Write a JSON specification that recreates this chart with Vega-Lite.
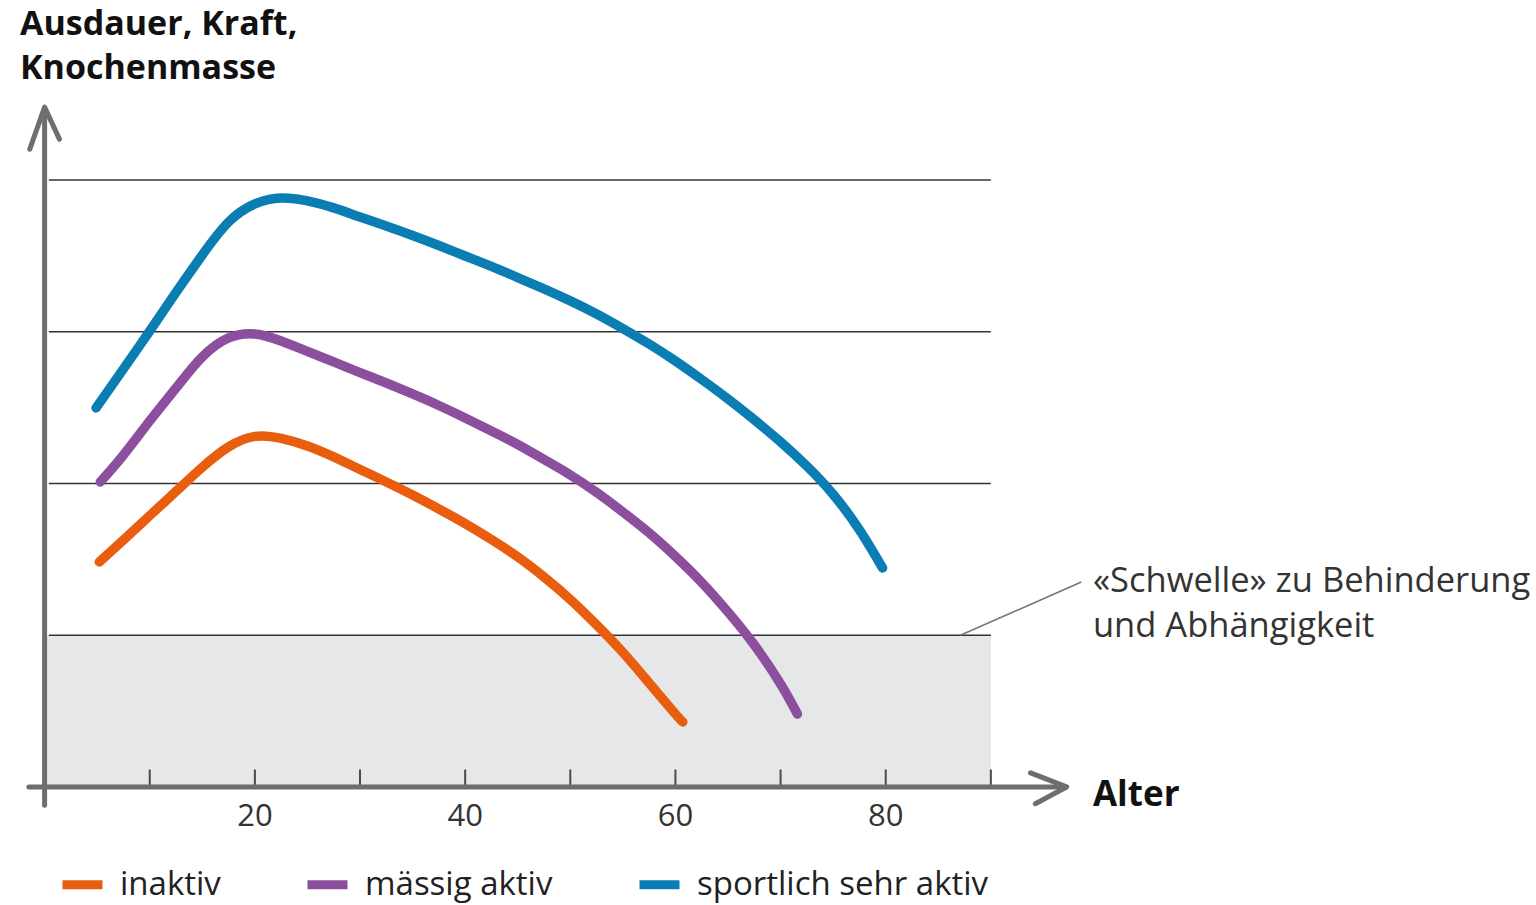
{
  "$schema": "https://vega.github.io/schema/vega-lite/v6.json",
  "width": 1536,
  "height": 905,
  "autosize": {"type": "none"},
  "padding": 0,
  "background": "white",
  "config": {"view": {"stroke": null}, "font": "Open Sans", "axis": {"disable": true}},
  "layer": [
    {
      "data": {"values": [{}]},
      "mark": {"type": "rect", "color": "#e6e7e9"},
      "encoding": {
        "x": {"datum": 0, "type": "quantitative", "axis": null, "scale": {"domain": [-4.242, 141.85], "nice": false, "zero": false}},
        "x2": {"datum": 90},
        "y": {"datum": 0, "type": "quantitative", "axis": null, "scale": {"domain": [-0.778, 5.186], "nice": false, "zero": false}},
        "y2": {"datum": 1}
      }
    },
    {
      "data": {"values": [{"stufe": 1}, {"stufe": 2}, {"stufe": 3}, {"stufe": 4}]},
      "mark": {"type": "rule", "color": "#333333", "strokeWidth": 1.6},
      "encoding": {
        "x": {"datum": 0.4, "type": "quantitative", "axis": null},
        "x2": {"datum": 90},
        "y": {"field": "stufe", "type": "quantitative", "axis": null}
      }
    },
    {
      "data": {"values": [{"alter": 10}, {"alter": 20}, {"alter": 30}, {"alter": 40}, {"alter": 50}, {"alter": 60}, {"alter": 70}, {"alter": 80}, {"alter": 90}]},
      "mark": {"type": "rule", "color": "#4a4a4a", "strokeWidth": 2},
      "encoding": {
        "x": {"field": "alter", "type": "quantitative", "axis": null},
        "y": {"datum": 0, "type": "quantitative", "axis": null},
        "y2": {"datum": 0.115}
      }
    },
    {
      "data": {"values": [{"alter": 20}, {"alter": 40}, {"alter": 60}, {"alter": 80}]},
      "mark": {"type": "text", "fontSize": 31, "color": "#333333", "align": "center", "baseline": "alphabetic"},
      "encoding": {
        "x": {"field": "alter", "type": "quantitative", "axis": null},
        "y": {"datum": -0.257, "type": "quantitative", "axis": null},
        "text": {"field": "alter", "type": "quantitative"}
      }
    },
    {
      "data": {"values": [{}]},
      "mark": {"type": "rule", "color": "#6e6e6e", "strokeWidth": 5, "strokeCap": "round"},
      "encoding": {
        "x": {"datum": -1.5, "type": "quantitative", "axis": null},
        "x2": {"datum": 96.9},
        "y": {"datum": 0, "type": "quantitative", "axis": null}
      }
    },
    {
      "data": {"values": [{}]},
      "mark": {"type": "rule", "color": "#6e6e6e", "strokeWidth": 5, "strokeCap": "round"},
      "encoding": {
        "x": {"datum": 0, "type": "quantitative", "axis": null},
        "y": {"datum": -0.12, "type": "quantitative", "axis": null},
        "y2": {"datum": 4.46}
      }
    },
    {
      "data": {"values": [{}]},
      "mark": {"type": "point", "shape": "M -0.37 1.05 L 0 0 L 0.37 0.8", "size": 6400, "filled": false, "color": "#6e6e6e", "strokeWidth": 5, "strokeCap": "round", "strokeJoin": "round", "opacity": 1},
      "encoding": {
        "x": {"datum": 0, "type": "quantitative", "axis": null},
        "y": {"datum": 4.48, "type": "quantitative", "axis": null}
      }
    },
    {
      "data": {"values": [{}]},
      "mark": {"type": "point", "shape": "M -0.9 -0.35 L 0 0 L -0.78 0.42", "size": 6400, "filled": false, "color": "#6e6e6e", "strokeWidth": 5, "strokeCap": "round", "strokeJoin": "round", "opacity": 1},
      "encoding": {
        "x": {"datum": 97.2, "type": "quantitative", "axis": null},
        "y": {"datum": 0, "type": "quantitative", "axis": null}
      }
    },
    {
      "data": {"values": [{}]},
      "mark": {"type": "rule", "color": "#777777", "strokeWidth": 1.6},
      "encoding": {
        "x": {"datum": 87.1, "type": "quantitative", "axis": null},
        "x2": {"datum": 98.6},
        "y": {"datum": 1.0, "type": "quantitative", "axis": null},
        "y2": {"datum": 1.35}
      }
    },
    {
      "data": {"values": [
        {"gruppe": "inaktiv", "alter": 5.2, "wert": 1.483},
        {"gruppe": "inaktiv", "alter": 7.5, "wert": 1.628},
        {"gruppe": "inaktiv", "alter": 10, "wert": 1.788},
        {"gruppe": "inaktiv", "alter": 12.5, "wert": 1.948},
        {"gruppe": "inaktiv", "alter": 15, "wert": 2.107},
        {"gruppe": "inaktiv", "alter": 17.5, "wert": 2.241},
        {"gruppe": "inaktiv", "alter": 20, "wert": 2.31},
        {"gruppe": "inaktiv", "alter": 22.5, "wert": 2.297},
        {"gruppe": "inaktiv", "alter": 25, "wert": 2.247},
        {"gruppe": "inaktiv", "alter": 27.5, "wert": 2.175},
        {"gruppe": "inaktiv", "alter": 30, "wert": 2.092},
        {"gruppe": "inaktiv", "alter": 32.5, "wert": 2.01},
        {"gruppe": "inaktiv", "alter": 35, "wert": 1.924},
        {"gruppe": "inaktiv", "alter": 37.5, "wert": 1.832},
        {"gruppe": "inaktiv", "alter": 40, "wert": 1.736},
        {"gruppe": "inaktiv", "alter": 42.5, "wert": 1.631},
        {"gruppe": "inaktiv", "alter": 45, "wert": 1.516},
        {"gruppe": "inaktiv", "alter": 47.5, "wert": 1.384},
        {"gruppe": "inaktiv", "alter": 50, "wert": 1.236},
        {"gruppe": "inaktiv", "alter": 52.5, "wert": 1.068},
        {"gruppe": "inaktiv", "alter": 55, "wert": 0.887},
        {"gruppe": "inaktiv", "alter": 57.5, "wert": 0.685},
        {"gruppe": "inaktiv", "alter": 60, "wert": 0.481},
        {"gruppe": "inaktiv", "alter": 60.7, "wert": 0.428},
        {"gruppe": "mässig aktiv", "alter": 5.3, "wert": 2.01},
        {"gruppe": "mässig aktiv", "alter": 7.5, "wert": 2.188},
        {"gruppe": "mässig aktiv", "alter": 10, "wert": 2.412},
        {"gruppe": "mässig aktiv", "alter": 12.5, "wert": 2.629},
        {"gruppe": "mässig aktiv", "alter": 15, "wert": 2.834},
        {"gruppe": "mässig aktiv", "alter": 17.5, "wert": 2.959},
        {"gruppe": "mässig aktiv", "alter": 20, "wert": 2.985},
        {"gruppe": "mässig aktiv", "alter": 22.5, "wert": 2.939},
        {"gruppe": "mässig aktiv", "alter": 25, "wert": 2.87},
        {"gruppe": "mässig aktiv", "alter": 27.5, "wert": 2.801},
        {"gruppe": "mässig aktiv", "alter": 30, "wert": 2.731},
        {"gruppe": "mässig aktiv", "alter": 32.5, "wert": 2.662},
        {"gruppe": "mässig aktiv", "alter": 35, "wert": 2.59},
        {"gruppe": "mässig aktiv", "alter": 37.5, "wert": 2.514},
        {"gruppe": "mässig aktiv", "alter": 40, "wert": 2.432},
        {"gruppe": "mässig aktiv", "alter": 42.5, "wert": 2.346},
        {"gruppe": "mässig aktiv", "alter": 45, "wert": 2.257},
        {"gruppe": "mässig aktiv", "alter": 47.5, "wert": 2.158},
        {"gruppe": "mässig aktiv", "alter": 50, "wert": 2.056},
        {"gruppe": "mässig aktiv", "alter": 52.5, "wert": 1.941},
        {"gruppe": "mässig aktiv", "alter": 55, "wert": 1.812},
        {"gruppe": "mässig aktiv", "alter": 57.5, "wert": 1.674},
        {"gruppe": "mässig aktiv", "alter": 60, "wert": 1.519},
        {"gruppe": "mässig aktiv", "alter": 62.5, "wert": 1.348},
        {"gruppe": "mässig aktiv", "alter": 65, "wert": 1.153},
        {"gruppe": "mässig aktiv", "alter": 67.5, "wert": 0.936},
        {"gruppe": "mässig aktiv", "alter": 70, "wert": 0.679},
        {"gruppe": "mässig aktiv", "alter": 71.6, "wert": 0.481},
        {"gruppe": "sportlich sehr aktiv", "alter": 4.9, "wert": 2.498},
        {"gruppe": "sportlich sehr aktiv", "alter": 7.5, "wert": 2.755},
        {"gruppe": "sportlich sehr aktiv", "alter": 10, "wert": 3.005},
        {"gruppe": "sportlich sehr aktiv", "alter": 12.5, "wert": 3.259},
        {"gruppe": "sportlich sehr aktiv", "alter": 15, "wert": 3.506},
        {"gruppe": "sportlich sehr aktiv", "alter": 17.5, "wert": 3.723},
        {"gruppe": "sportlich sehr aktiv", "alter": 20, "wert": 3.842},
        {"gruppe": "sportlich sehr aktiv", "alter": 22.5, "wert": 3.881},
        {"gruppe": "sportlich sehr aktiv", "alter": 25, "wert": 3.862},
        {"gruppe": "sportlich sehr aktiv", "alter": 27.5, "wert": 3.816},
        {"gruppe": "sportlich sehr aktiv", "alter": 30, "wert": 3.756},
        {"gruppe": "sportlich sehr aktiv", "alter": 32.5, "wert": 3.697},
        {"gruppe": "sportlich sehr aktiv", "alter": 35, "wert": 3.634},
        {"gruppe": "sportlich sehr aktiv", "alter": 37.5, "wert": 3.568},
        {"gruppe": "sportlich sehr aktiv", "alter": 40, "wert": 3.499},
        {"gruppe": "sportlich sehr aktiv", "alter": 42.5, "wert": 3.43},
        {"gruppe": "sportlich sehr aktiv", "alter": 45, "wert": 3.357},
        {"gruppe": "sportlich sehr aktiv", "alter": 47.5, "wert": 3.282},
        {"gruppe": "sportlich sehr aktiv", "alter": 50, "wert": 3.203},
        {"gruppe": "sportlich sehr aktiv", "alter": 52.5, "wert": 3.117},
        {"gruppe": "sportlich sehr aktiv", "alter": 55, "wert": 3.021},
        {"gruppe": "sportlich sehr aktiv", "alter": 57.5, "wert": 2.919},
        {"gruppe": "sportlich sehr aktiv", "alter": 60, "wert": 2.807},
        {"gruppe": "sportlich sehr aktiv", "alter": 62.5, "wert": 2.685},
        {"gruppe": "sportlich sehr aktiv", "alter": 65, "wert": 2.557},
        {"gruppe": "sportlich sehr aktiv", "alter": 67.5, "wert": 2.42},
        {"gruppe": "sportlich sehr aktiv", "alter": 70, "wert": 2.274},
        {"gruppe": "sportlich sehr aktiv", "alter": 72.5, "wert": 2.114},
        {"gruppe": "sportlich sehr aktiv", "alter": 75, "wert": 1.928},
        {"gruppe": "sportlich sehr aktiv", "alter": 77.5, "wert": 1.694},
        {"gruppe": "sportlich sehr aktiv", "alter": 79.7, "wert": 1.443}
      ]},
      "mark": {"type": "line", "strokeWidth": 9.5, "strokeCap": "round", "strokeJoin": "round", "interpolate": "natural"},
      "encoding": {
        "x": {"field": "alter", "type": "quantitative", "axis": null, "scale": {"domain": [-4.242, 141.85], "nice": false, "zero": false}},
        "y": {"field": "wert", "type": "quantitative", "axis": null, "scale": {"domain": [-0.778, 5.186], "nice": false, "zero": false}},
        "color": {
          "field": "gruppe",
          "type": "nominal",
          "scale": {"domain": ["inaktiv", "mässig aktiv", "sportlich sehr aktiv"], "range": ["#e85d0e", "#8b4f9d", "#0a7db3"]},
          "legend": {
            "orient": "none", "legendX": 58, "legendY": 860, "direction": "horizontal", "title": null,
            "symbolType": "stroke", "symbolSize": 1600, "symbolStrokeWidth": 9,
            "labelFont": "Open Sans", "labelFontSize": 33, "labelColor": "#222222",
            "labelOffset": 13, "columnPadding": 68, "labelLimit": 600
          }
        }
      }
    },
    {
      "data": {"values": [{}]},
      "mark": {"type": "text", "text": ["Ausdauer, Kraft,", "Knochenmasse"], "fontSize": 34, "fontWeight": "bold", "color": "#111111", "align": "left", "baseline": "alphabetic", "lineHeight": 44},
      "encoding": {
        "x": {"datum": -2.34, "type": "quantitative", "axis": null},
        "y": {"datum": 4.955, "type": "quantitative", "axis": null}
      }
    },
    {
      "data": {"values": [{}]},
      "mark": {"type": "text", "text": "Alter", "fontSize": 35, "fontWeight": "bold", "color": "#111111", "align": "left", "baseline": "alphabetic"},
      "encoding": {
        "x": {"datum": 99.71, "type": "quantitative", "axis": null},
        "y": {"datum": -0.125, "type": "quantitative", "axis": null}
      }
    },
    {
      "data": {"values": [{}]},
      "mark": {"type": "text", "text": ["«Schwelle» zu Behinderung", "und Abhängigkeit"], "fontSize": 34.5, "color": "#333333", "align": "left", "baseline": "alphabetic", "lineHeight": 45},
      "encoding": {
        "x": {"datum": 99.71, "type": "quantitative", "axis": null},
        "y": {"datum": 1.285, "type": "quantitative", "axis": null}
      }
    }
  ]
}
